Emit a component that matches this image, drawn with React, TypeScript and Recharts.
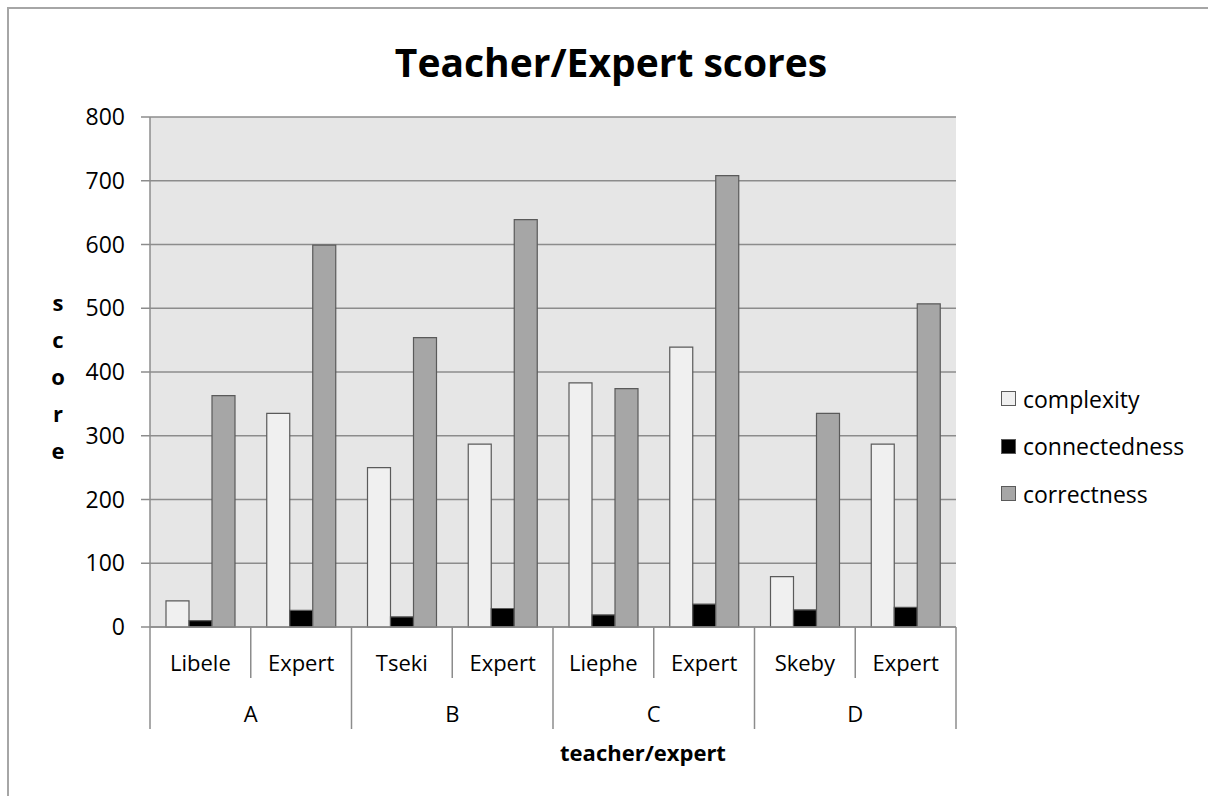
import { BarChart, Bar, XAxis, YAxis, CartesianGrid } from 'recharts';

const categories = ['Libele', 'Expert', 'Tseki', 'Expert', 'Liephe', 'Expert', 'Skeby', 'Expert'];
const groups = ['A', 'A', 'B', 'B', 'C', 'C', 'D', 'D'];
const complexity = [41, 335, 250, 287, 383, 439, 79, 287];
const connectedness = [10, 26, 16, 29, 19, 36, 27, 31];
const correctness = [363, 599, 454, 639, 374, 708, 335, 507];
const yTicks = [0, 100, 200, 300, 400, 500, 600, 700, 800];

const seriesNames = ['complexity', 'connectedness', 'correctness'];
const seriesFill: Record<string, string> = {
  complexity: '#f0f0f0',
  connectedness: '#000000',
  correctness: '#a6a6a6',
};

const data = categories.map((name, i) => ({
  key: `${groups[i]}-${name}`,
  complexity: complexity[i],
  connectedness: connectedness[i],
  correctness: correctness[i],
}));

const W = 1192;
const H = 780;
const PLOT_LEFT = 142;
const PLOT_RIGHT = 948;
const PLOT_TOP = 109;
const PLOT_BOTTOM = 619;
const BAND = (PLOT_RIGHT - PLOT_LEFT) / categories.length;

const font = "'Open Sans', sans-serif";
const lineColor = '#8c8c8c';

function CategoryTick({ x, y, index }: { x: number; y: number; index: number }) {
  const left = x - BAND / 2;
  const right = x + BAND / 2;
  const isGroupStart = index % 2 === 0;
  const isLast = index === categories.length - 1;
  return (
    <g>
      <line x1={left} y1={y} x2={left} y2={y + (isGroupStart ? 102 : 51)} stroke={lineColor} strokeWidth={1.5} />
      {isLast && <line x1={right} y1={y} x2={right} y2={y + 102} stroke={lineColor} strokeWidth={1.5} />}
      <text x={x} y={y + 35} textAnchor="middle" dominantBaseline="central" fontSize={22} fontFamily={font} fill="#000">
        {categories[index]}
      </text>
      {isGroupStart && (
        <text x={right} y={y + 86} textAnchor="middle" dominantBaseline="central" fontSize={22} fontFamily={font} fill="#000">
          {groups[index]}
        </text>
      )}
    </g>
  );
}

export default function App() {
  return (
    <div style={{ position: 'relative', width: W, height: H, fontFamily: font }}>
      <div style={{ position: 'absolute', left: 0, top: 32, width: 1206, textAlign: 'center', fontSize: 39, fontWeight: 700, lineHeight: '44px' }}>
        Teacher/Expert scores
      </div>

      <BarChart
        width={W}
        height={H}
        data={data}
        barSize={23}
        barGap={0}
        margin={{ top: PLOT_TOP, right: W - PLOT_RIGHT, left: 0, bottom: 0 }}
      >
        <CartesianGrid vertical={false} stroke={lineColor} strokeWidth={1.5} fill="#e6e6e6" />
        <XAxis
          dataKey="key"
          height={H - PLOT_BOTTOM}
          tickLine={false}
          tickSize={0}
          tickMargin={0}
          axisLine={{ stroke: lineColor, strokeWidth: 1.5 }}
          interval={0}
          tick={(props: any) => <CategoryTick x={props.x} y={props.y} index={props.index} />}
        />
        <YAxis
          width={PLOT_LEFT}
          domain={[0, 800]}
          ticks={yTicks}
          interval={0}
          tickSize={9}
          tickMargin={16}
          tickLine={{ stroke: lineColor, strokeWidth: 1.5 }}
          axisLine={{ stroke: lineColor, strokeWidth: 1.5 }}
          tick={{ fontSize: 23, fontFamily: font, fill: '#000' }}
        />
        {seriesNames.map((s) => (
          <Bar key={s} dataKey={s} fill={seriesFill[s]} stroke="#5a5a5a" strokeWidth={1.2} isAnimationActive={false} />
        ))}
      </BarChart>

      <div style={{ position: 'absolute', left: 28, top: 276, width: 44, textAlign: 'center', fontSize: 22, fontWeight: 700, lineHeight: '37px' }}>
        {'score'.split('').map((c, i) => (
          <div key={i}>{c}</div>
        ))}
      </div>

      <div style={{ position: 'absolute', left: 232, top: 726, width: 806, textAlign: 'center', fontSize: 22, fontWeight: 700, lineHeight: '36px' }}>
        teacher/expert
      </div>

      <div style={{ position: 'absolute', left: 993, top: 367 }}>
        {seriesNames.map((s) => (
          <div key={s} style={{ display: 'flex', alignItems: 'center', height: 47.5, fontSize: 23 }}>
            <span style={{ display: 'inline-block', width: 13, height: 13, background: seriesFill[s], border: '1px solid #5a5a5a', marginRight: 7 }} />
            <span>{s}</span>
          </div>
        ))}
      </div>

      {/* outer chart frame: only the top and left edges are inside the picture */}
      <div
        style={{
          position: 'fixed',
          left: 7,
          top: 7,
          width: 1230,
          height: 820,
          borderLeft: '2px solid #a6a6a6',
          borderTop: '2px solid #a6a6a6',
          pointerEvents: 'none',
          boxSizing: 'border-box',
        }}
      />
    </div>
  );
}
